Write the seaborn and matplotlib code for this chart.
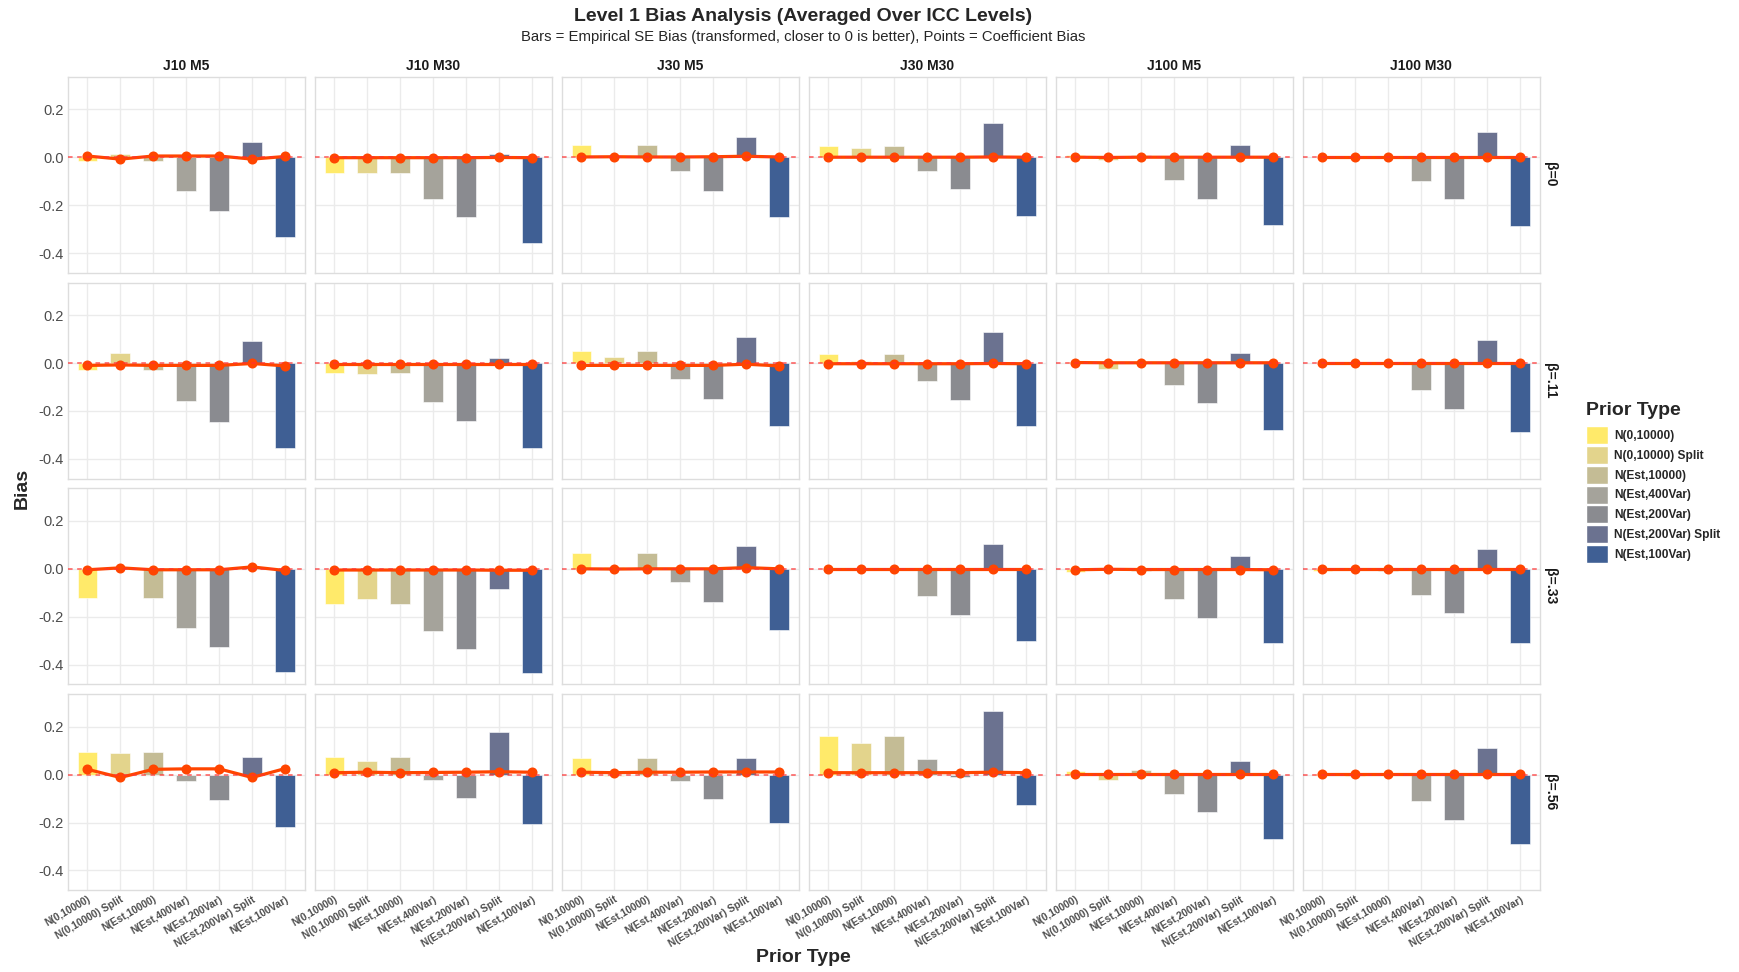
import pandas as pd
import matplotlib
matplotlib.use("Agg")
import matplotlib.pyplot as plt
from matplotlib.patches import Patch
import seaborn as sns

priors = ["N(0,10000)", "N(0,10000) Split", "N(Est,10000)", "N(Est,400Var)",
          "N(Est,200Var)", "N(Est,200Var) Split", "N(Est,100Var)"]
prior_colors = ["#FFEA6A", "#E3D48C", "#C4BC95", "#A5A39B", "#8A8B90", "#6B7290", "#3F5F94"]
designs = ["J10 M5", "J10 M30", "J30 M5", "J30 M30", "J100 M5", "J100 M30"]
betas = ["β=0", "β=.11", "β=.33", "β=.56"]

# empirical SE bias (bars), one list of 7 per design
se_b0 = [[-0.015, 0.015, -0.015, -0.143, -0.225, 0.063, -0.335],
         [-0.067, -0.065, -0.067, -0.176, -0.251, 0.014, -0.356],
         [0.051, 0.002, 0.051, -0.057, -0.139, 0.083, -0.250],
         [0.047, 0.040, 0.047, -0.057, -0.133, 0.143, -0.244],
         [0.008, -0.012, 0.008, -0.097, -0.174, 0.053, -0.282],
         [0.002, 0.003, 0.001, -0.101, -0.176, 0.104, -0.286]]
se_b11 = [[-0.028, 0.043, -0.028, -0.160, -0.246, 0.090, -0.354],
          [-0.043, -0.046, -0.043, -0.164, -0.243, 0.021, -0.354],
          [0.049, 0.026, 0.050, -0.067, -0.150, 0.107, -0.264],
          [0.036, 0.007, 0.037, -0.075, -0.156, 0.130, -0.264],
          [0.005, -0.026, 0.006, -0.092, -0.168, 0.040, -0.279],
          [0.001, 0.000, 0.001, -0.111, -0.192, 0.094, -0.286]]
se_b33 = [[-0.121, 0.002, -0.121, -0.247, -0.328, 0.002, -0.429],
          [-0.146, -0.128, -0.146, -0.260, -0.336, -0.085, -0.436],
          [0.067, 0.007, 0.068, -0.054, -0.138, 0.094, -0.256],
          [0.001, 0.000, 0.001, -0.113, -0.193, 0.104, -0.300],
          [-0.012, -0.003, -0.010, -0.128, -0.204, 0.054, -0.310],
          [-0.008, -0.003, -0.008, -0.111, -0.183, 0.083, -0.308]]
se_b56 = [[0.094, 0.090, 0.094, -0.028, -0.108, 0.074, -0.219],
          [0.072, 0.057, 0.072, -0.021, -0.099, 0.176, -0.208],
          [0.068, -0.007, 0.068, -0.028, -0.101, 0.068, -0.204],
          [0.162, 0.132, 0.162, 0.065, -0.010, 0.267, -0.125],
          [0.015, -0.021, 0.020, -0.083, -0.158, 0.058, -0.267],
          [0.002, -0.007, 0.002, -0.111, -0.188, 0.112, -0.290]]

# coefficient bias (points)
cb_b0 = [[0.005, -0.008, 0.005, 0.005, 0.005, -0.008, 0.003],
         [-0.002, -0.002, -0.002, -0.002, -0.002, -0.001, -0.002],
         [0.001, 0.002, 0.001, 0.001, 0.002, 0.004, 0.001],
         [0.000, 0.000, 0.000, 0.000, 0.000, 0.001, 0.000],
         [0.000, -0.001, 0.000, 0.000, 0.000, 0.000, 0.000],
         [0.000, 0.000, 0.000, 0.000, 0.000, 0.000, 0.000]]
cb_b11 = [[-0.010, -0.008, -0.010, -0.010, -0.010, -0.002, -0.012],
          [-0.003, -0.003, -0.003, -0.003, -0.003, -0.003, -0.003],
          [-0.010, -0.010, -0.010, -0.010, -0.010, -0.005, -0.012],
          [-0.003, -0.003, -0.003, -0.003, -0.003, -0.002, -0.003],
          [0.002, 0.001, 0.001, 0.001, 0.001, 0.001, 0.001],
          [0.000, 0.000, 0.000, 0.000, 0.000, 0.000, 0.000]]
cb_b33 = [[-0.004, 0.004, -0.004, -0.004, -0.004, 0.008, -0.007],
          [-0.005, -0.005, -0.005, -0.005, -0.005, -0.006, -0.006],
          [0.000, -0.001, 0.000, 0.000, 0.000, 0.005, 0.000],
          [0.000, 0.000, 0.000, 0.000, 0.000, 0.000, 0.000],
          [-0.004, -0.002, -0.003, -0.003, -0.003, -0.003, -0.004],
          [0.000, 0.000, 0.000, 0.000, 0.000, 0.000, 0.000]]
cb_b56 = [[0.022, -0.012, 0.022, 0.024, 0.024, -0.012, 0.025],
          [0.008, 0.010, 0.008, 0.009, 0.010, 0.012, 0.010],
          [0.010, 0.008, 0.010, 0.010, 0.011, 0.011, 0.011],
          [0.008, 0.008, 0.008, 0.008, 0.008, 0.010, 0.008],
          [0.004, 0.004, 0.004, 0.004, 0.004, 0.004, 0.004],
          [0.002, 0.002, 0.002, 0.002, 0.002, 0.002, 0.002]]

se_rows = [se_b0, se_b11, se_b33, se_b56]
cb_rows = [cb_b0, cb_b11, cb_b33, cb_b56]

records = []
for bi, beta in enumerate(betas):
    for di, design in enumerate(designs):
        for pi, prior in enumerate(priors):
            records.append({"beta": beta, "design": design, "prior": prior,
                            "se_bias": se_rows[bi][di][pi],
                            "coef_bias": cb_rows[bi][di][pi]})
df = pd.DataFrame(records)

sns.set_theme(style="white")
plt.rcParams["font.family"] = ["Liberation Sans", "DejaVu Sans"]

W, H = 1739, 972
fig = plt.figure(figsize=(W / 100, H / 100), dpi=100)

left0, pitch_x, pw = 67.7, 247.0, 237.0
top0, pitch_y, ph = 76.7, 205.8, 196.0
palette = dict(zip(priors, prior_colors))

for bi, beta in enumerate(betas):
    for di, design in enumerate(designs):
        x0 = left0 + di * pitch_x
        y0 = top0 + bi * pitch_y
        ax = fig.add_axes([x0 / W, 1 - (y0 + ph) / H, pw / W, ph / H])
        sub = df[(df["beta"] == beta) & (df["design"] == design)]

        sns.barplot(data=sub, x="prior", y="se_bias", hue="prior", order=priors,
                    hue_order=priors, palette=palette, width=0.6, saturation=1,
                    legend=False, edgecolor="white", linewidth=0.4, ax=ax, zorder=2)
        ax.axhline(0, color="#FF3030", linestyle=(0, (3, 3)), linewidth=1.1,
                   alpha=0.8, zorder=3)
        sns.pointplot(data=sub, x="prior", y="coef_bias", order=priors,
                      color="#FF4500", markers="o", markersize=5.5, linewidth=2.3,
                      errorbar=None, ax=ax)

        ax.set_xlim(-0.6, 6.6)
        ax.set_ylim(-0.482, 0.336)
        ax.set_yticks([-0.4, -0.2, 0.0, 0.2])
        ax.set_axisbelow(True)
        ax.grid(True, color="#EBEBEB", linewidth=1.0)
        for s in ax.spines.values():
            s.set_color("#DDDDDD")
            s.set_linewidth(1.0)
        ax.tick_params(length=0, pad=3)
        ax.set_xlabel("")
        ax.set_ylabel("")

        if di == 0:
            ax.set_yticklabels(["-0.4", "-0.2", "0.0", "0.2"], fontsize=10.5,
                               color="#4D4D4D")
        else:
            ax.set_yticklabels([])
        if bi == len(betas) - 1:
            ax.set_xticks(range(len(priors)))
            ax.set_xticklabels(priors, rotation=30, ha="right",
                               rotation_mode="anchor", fontsize=7.4,
                               fontweight="bold", color="#4D4D4D")
        else:
            ax.set_xticklabels([])
        if bi == 0:
            ax.set_title(design, fontsize=10, fontweight="bold", pad=5,
                         color="#1A1A1A")
        if di == len(designs) - 1:
            ax.text(1.042, 0.5, beta, transform=ax.transAxes, rotation=-90,
                    ha="center", va="center", fontsize=10, fontweight="bold",
                    color="#1A1A1A")

fig.text(803 / W, 1 - 16.6 / H, "Level 1 Bias Analysis (Averaged Over ICC Levels)",
         ha="center", va="center", fontsize=14, fontweight="bold")
fig.text(803 / W, 1 - 37.5 / H,
         "Bars = Empirical SE Bias (transformed, closer to 0 is better), Points = Coefficient Bias",
         ha="center", va="center", fontsize=10.7)
fig.text(22 / W, 0.498, "Bias", rotation=90, ha="center", va="center",
         fontsize=14, fontweight="bold")
fig.text(803 / W, 1 - 957 / H, "Prior Type", ha="center", va="center",
         fontsize=14, fontweight="bold")

handles = [Patch(facecolor=c, edgecolor="white", label=p)
           for p, c in zip(priors, prior_colors)]
leg = fig.legend(handles=handles, loc="upper left",
                 bbox_to_anchor=(1586 / W, 1 - 402 / H), frameon=False,
                 title="Prior Type", fontsize=8.6, handlelength=1.8,
                 handleheight=1.95, labelspacing=0.15, handletextpad=0.55,
                 borderpad=0, borderaxespad=0)
leg.get_title().set_fontsize(14)
leg.get_title().set_fontweight("bold")
leg._legend_box.align = "left"
leg._legend_box.sep = 5
for t in leg.get_texts():
    t.set_fontweight("bold")

fig.savefig("out.png", dpi=100)
